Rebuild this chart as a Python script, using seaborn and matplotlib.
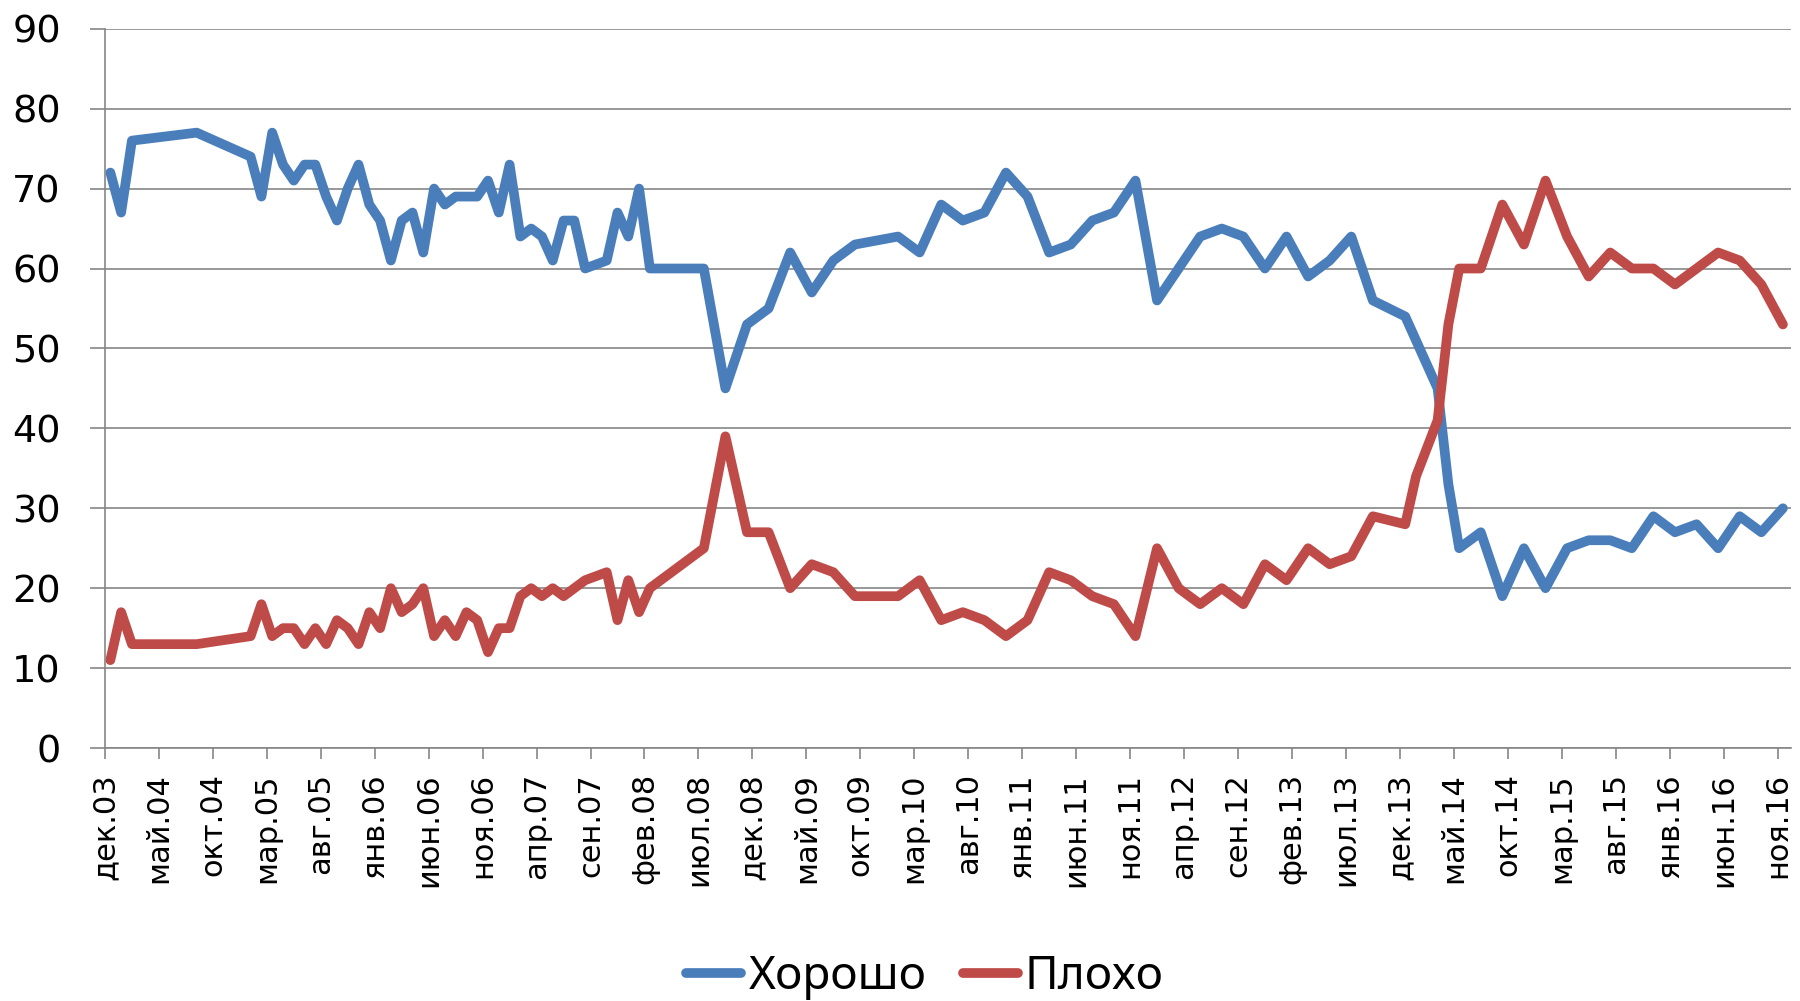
import numpy as np
import pandas as pd
import matplotlib
matplotlib.use("Agg")
import matplotlib.pyplot as plt
import seaborn as sns

# month index of each survey, counted from Dec 2003 (0 = dec.03)
months = [0, 1, 2, 8, 13, 14, 15, 16, 17, 18, 19, 20, 21, 22, 23, 24, 25,
          26, 27, 28, 29, 30, 31, 32, 33, 34, 35, 36, 37, 38, 39, 40, 41, 42,
          43, 44, 46, 47, 48, 49, 50, 55, 57, 59, 61, 63, 65, 67, 69, 73, 75,
          77, 79, 81, 83, 85, 87, 89, 91, 93, 95, 97, 99, 101, 103, 105, 107,
          109, 111, 113, 115, 117, 120, 121, 123, 124, 125, 127, 129, 131,
          133, 135, 137, 139, 141, 143, 145, 147, 149, 151, 153, 155]

good = [72, 67, 76, 77, 74, 69, 77, 73, 71, 73, 73, 69, 66, 70, 73, 68, 66,
        61, 66, 67, 62, 70, 68, 69, 69, 69, 71, 67, 73, 64, 65, 64, 61, 66,
        66, 60, 61, 67, 64, 70, 60, 60, 45, 53, 55, 62, 57, 61, 63, 64, 62,
        68, 66, 67, 72, 69, 62, 63, 66, 67, 71, 56, 60, 64, 65, 64, 60,
        64, 59, 61, 64, 56, 54, 51, 45, 33, 25, 27, 19, 25,
        20, 25, 26, 26, 25, 29, 27, 28, 25, 29, 27, 30]

bad = [11, 17, 13, 13, 14, 18, 14, 15, 15, 13, 15, 13, 16, 15, 13, 17, 15,
       20, 17, 18, 20, 14, 16, 14, 17, 16, 12, 15, 15, 19, 20, 19, 20, 19,
       20, 21, 22, 16, 21, 17, 20, 25, 39, 27, 27, 20, 23, 22, 19, 19, 21,
       16, 17, 16, 14, 16, 22, 21, 19, 18, 14, 25, 20, 18, 20, 18, 23,
       21, 25, 23, 24, 29, 28, 34, 41, 53, 60, 60, 68, 63,
       71, 64, 59, 62, 60, 60, 58, 60, 62, 61, 58, 53]

series_names = ["Хорошо", "Плохо"]
colors = ["#4A7EBB", "#BE4B48"]

month_names = ["янв", "фев", "мар", "апр", "май", "июн",
               "июл", "авг", "сен", "окт", "ноя", "дек"]

tick_months = list(range(0, 156, 5))
tick_labels = []
for k in tick_months:
    mi = (11 + k) % 12
    yr = 2003 + (11 + k) // 12
    tick_labels.append(f"{month_names[mi]}.{yr % 100:02d}")

df = pd.DataFrame({
    "x": np.array(months * 2) + 0.5,   # surveys sit mid-month
    "value": good + bad,
    "series": [series_names[0]] * len(months) + [series_names[1]] * len(months),
})

sns.set_style("white")
plt.rcParams["font.family"] = ["DejaVu Sans"]

fig = plt.figure(figsize=(18, 10.01), dpi=100)
ax = fig.add_axes([0.0583, 0.2527, 0.9367, 0.7186])

sns.lineplot(data=df, x="x", y="value", hue="series", hue_order=series_names,
             palette=colors, linewidth=7, ax=ax, legend=True)
for ln in ax.lines:
    ln.set_solid_joinstyle("round")
    ln.set_solid_capstyle("round")

ax.set_xlim(0, 156.25)
ax.set_ylim(0, 90)
ax.set_xticks(tick_months)
ax.set_xticklabels(tick_labels, rotation=90)
ax.set_yticks(range(0, 91, 10))
ax.set_xlabel("")
ax.set_ylabel("")

grey = "#868686"
ax.yaxis.grid(True, color=grey, linewidth=1.2)
ax.xaxis.grid(False)
ax.set_axisbelow(True)
for side in ["top", "right"]:
    ax.spines[side].set_visible(False)
for side in ["left", "bottom"]:
    ax.spines[side].set(color=grey, linewidth=1.2)

ax.tick_params(axis="x", direction="out", length=8, width=1.2, color=grey,
               labelsize=22, pad=10, bottom=True, labelcolor="black")
ax.tick_params(axis="y", direction="out", length=10.8, width=1.2, color=grey,
               labelsize=27.5, pad=21, left=True, labelcolor="black")

handles, labels = ax.get_legend_handles_labels()
ax.get_legend().remove()
for h in handles:
    h.set_linewidth(7)
    h.set_solid_capstyle("round")
leg = fig.legend(handles, labels, loc="center", bbox_to_anchor=(0.514, 0.024),
                 ncol=2, frameon=False, handlelength=1.2, handletextpad=0.15,
                 columnspacing=0.8,
                 prop={"family": ["Noto Sans", "DejaVu Sans"], "size": 33})
for t in leg.get_texts():
    t.set_color("black")

fig.savefig("out.png", dpi=100)
